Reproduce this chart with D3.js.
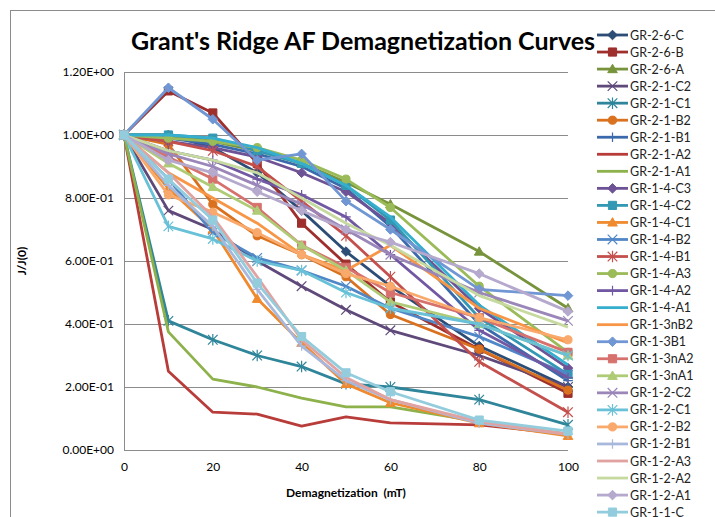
<!DOCTYPE html>
<html><head><meta charset="utf-8">
<script src="https://cdn.jsdelivr.net/npm/d3@7"></script>
<style>body{margin:0;background:#fff}</style>
</head><body><svg id="c" width="715" height="517"></svg>
<script>
const xValues = [0, 10, 20, 30, 40, 50, 60, 80, 100];
const seriesNames = ["GR-2-6-C","GR-2-6-B","GR-2-6-A","GR-2-1-C2","GR-2-1-C1","GR-2-1-B2","GR-2-1-B1","GR-2-1-A2","GR-2-1-A1",
  "GR-1-4-C3","GR-1-4-C2","GR-1-4-C1","GR-1-4-B2","GR-1-4-B1","GR-1-4-A3","GR-1-4-A2","GR-1-4-A1","GR-1-3nB2","GR-1-3B1",
  "GR-1-3nA2","GR-1-3nA1","GR-1-2-C2","GR-1-2-C1","GR-1-2-B2","GR-1-2-B1","GR-1-2-A3","GR-1-2-A2","GR-1-2-A1","GR-1-1-C"];
const seriesValues = [
  [1, 1.00, 0.96, 0.88, 0.76, 0.63, 0.52, 0.33, 0.20],
  [1, 1.14, 1.07, 0.91, 0.72, 0.59, 0.47, 0.32, 0.18],
  [1, 1.00, 0.98, 0.95, 0.91, 0.85, 0.78, 0.63, 0.45],
  [1, 0.76, 0.70, 0.60, 0.52, 0.445, 0.38, 0.30, 0.20],
  [1, 0.41, 0.35, 0.30, 0.265, 0.21, 0.20, 0.16, 0.08],
  [1, 0.97, 0.78, 0.68, 0.62, 0.55, 0.43, 0.32, 0.19],
  [1, 0.99, 0.97, 0.94, 0.90, 0.83, 0.71, 0.40, 0.22],
  [1, 0.25, 0.12, 0.114, 0.076, 0.105, 0.086, 0.08, 0.05],
  [1, 0.375, 0.225, 0.20, 0.165, 0.137, 0.137, 0.09, 0.05],
  [1, 0.98, 0.96, 0.93, 0.88, 0.82, 0.72, 0.45, 0.26],
  [1, 1.00, 0.99, 0.95, 0.91, 0.84, 0.73, 0.42, 0.24],
  [1, 0.83, 0.70, 0.48, 0.34, 0.21, 0.15, 0.085, 0.045],
  [1, 0.86, 0.69, 0.61, 0.57, 0.52, 0.45, 0.36, 0.24],
  [1, 0.98, 0.95, 0.90, 0.79, 0.68, 0.55, 0.28, 0.12],
  [1, 0.99, 0.98, 0.96, 0.92, 0.86, 0.77, 0.52, 0.31],
  [1, 0.95, 0.92, 0.86, 0.81, 0.74, 0.62, 0.38, 0.23],
  [1, 1.00, 0.99, 0.96, 0.91, 0.84, 0.74, 0.46, 0.27],
  [1, 0.88, 0.80, 0.72, 0.62, 0.57, 0.65, 0.45, 0.34],
  [1, 1.15, 1.05, 0.92, 0.94, 0.79, 0.70, 0.51, 0.49],
  [1, 0.93, 0.86, 0.77, 0.65, 0.58, 0.50, 0.42, 0.31],
  [1, 0.91, 0.835, 0.76, 0.65, 0.57, 0.47, 0.40, 0.30],
  [1, 0.94, 0.90, 0.84, 0.78, 0.70, 0.62, 0.50, 0.41],
  [1, 0.71, 0.67, 0.60, 0.57, 0.50, 0.45, 0.40, 0.30],
  [1, 0.81, 0.755, 0.69, 0.62, 0.56, 0.52, 0.42, 0.35],
  [1, 0.84, 0.71, 0.51, 0.33, 0.22, 0.16, 0.085, 0.05],
  [1, 0.88, 0.74, 0.55, 0.35, 0.23, 0.16, 0.09, 0.05],
  [1, 0.95, 0.92, 0.88, 0.80, 0.72, 0.65, 0.49, 0.39],
  [1, 0.92, 0.88, 0.82, 0.76, 0.70, 0.66, 0.56, 0.44],
  [1, 0.86, 0.73, 0.53, 0.36, 0.245, 0.185, 0.095, 0.06]
];
const seriesColors = ["#2C4D75","#9E2F2C","#77933C","#5F497A","#2F8599","#D9711E","#3A6AAB","#B83C39","#8DB14B",
  "#6E5296","#3398B3","#F08A2E","#5087C7","#C4504D","#9BBB59","#7258A2","#36AECD","#F79646","#7097D4",
  "#D7716E","#AFCB76","#9A86B8","#68C1D7","#F9A96B","#A8B8DC","#E0A3A1","#C6DAA0","#B5A9CD","#93CDDD"];
const seriesMarkers = ["diamond","square","triangle","x","asterisk","circle","plus","none","none",
  "diamond","square","triangle","x","asterisk","circle","plus","none","none","diamond",
  "square","triangle","x","asterisk","circle","plus","none","none","diamond","square"];
const yTicks = [0, 0.2, 0.4, 0.6, 0.8, 1.0, 1.2];
const xTicks = [0, 20, 40, 60, 80, 100];

const svg = d3.select("#c");
const FONT = "Lato, 'Open Sans', sans-serif";
const x = d3.scaleLinear().domain([0, 100]).range([124, 568]);
const y = d3.scaleLinear().domain([0, 1.2]).range([450, 72]);

// outer chart border
svg.append("rect").attr("x", 10.5).attr("y", 10.5).attr("width", 720).attr("height", 520)
  .attr("fill", "#fff").attr("stroke", "#8c8c8c").attr("stroke-width", 1);

// title
svg.append("text").attr("x", 363).attr("y", 50).attr("text-anchor", "middle")
  .attr("font-family", FONT).attr("font-weight", "bold").attr("font-size", 25).attr("fill", "#000")
  .text("Grant's Ridge AF Demagnetization Curves");

// gridlines
svg.append("g").selectAll("line").data(yTicks).join("line")
  .attr("x1", x(0)).attr("x2", x(100)).attr("y1", d => Math.round(y(d)) + 0.5).attr("y2", d => Math.round(y(d)) + 0.5)
  .attr("stroke", "#8c8c8c").attr("stroke-width", 1);
svg.append("line").attr("x1", x(0) + 0.5).attr("x2", x(0) + 0.5).attr("y1", y(1.2)).attr("y2", y(0))
  .attr("stroke", "#8c8c8c");

function fmtE(v) {
  let s = v.toExponential(2).toUpperCase();
  return s.replace(/E([+-])(\d)$/, "E$10$2");
}
// y axis
const yAxis = d3.axisLeft(y).tickValues(yTicks).tickFormat(fmtE).tickSize(0).tickPadding(10);
const gy = svg.append("g").attr("transform", `translate(${x(0)},0)`).call(yAxis);
gy.select(".domain").remove();
gy.selectAll("text").attr("font-family", FONT).attr("font-size", 12).attr("fill", "#000");
// x axis
const xAxis = d3.axisBottom(x).tickValues(xTicks).tickSize(0).tickPadding(12);
const gx = svg.append("g").attr("transform", `translate(0,${y(0)})`).call(xAxis);
gx.select(".domain").remove();
gx.selectAll("text").attr("font-family", FONT).attr("font-size", 12).attr("fill", "#000");

// axis titles
svg.append("text").attr("x", 346).attr("y", 497).attr("text-anchor", "middle")
  .attr("font-family", FONT).attr("font-weight", "bold").attr("font-size", 12)
  .attr("xml:space", "preserve").text("Demagnetization  (mT)");
svg.append("text").attr("transform", "translate(26,261) rotate(-90)").attr("text-anchor", "middle")
  .attr("font-family", FONT).attr("font-weight", "bold").attr("font-size", 12).text("J/J(0)");

function markerPath(type, s) {
  switch (type) {
    case "diamond": return `M0,${-s}L${s},0L0,${s}L${-s},0Z`;
    case "square": return `M${-s*0.85},${-s*0.85}H${s*0.85}V${s*0.85}H${-s*0.85}Z`;
    case "triangle": return `M0,${-s}L${s},${s*0.75}L${-s},${s*0.75}Z`;
    case "circle": return d3.symbol(d3.symbolCircle, Math.PI * (s*0.85) * (s*0.85))();
    case "x": return `M${-s},${-s}L${s},${s}M${-s},${s}L${s},${-s}`;
    case "asterisk": return `M${-s},${-s}L${s},${s}M${-s},${s}L${s},${-s}M0,${-s*1.2}V${s*1.2}`;
    case "plus": return `M${-s},0H${s}M0,${-s}V${s}`;
  }
  return null;
}
const strokeMarkers = new Set(["x", "asterisk", "plus"]);

const line = d3.line().x(d => x(d[0])).y(d => y(d[1]));
const plot = svg.append("g");
seriesNames.forEach((name, i) => {
  const pts = xValues.map((xv, j) => [xv, seriesValues[i][j]]);
  const g = plot.append("g");
  g.append("path").attr("d", line(pts)).attr("fill", "none").attr("stroke", seriesColors[i])
    .attr("stroke-width", 2.8).attr("stroke-linejoin", "round");
  const m = seriesMarkers[i];
  if (m !== "none") {
    const p = markerPath(m, 4.8);
    g.selectAll("path.mk").data(pts).join("path").attr("class", "mk")
      .attr("transform", d => `translate(${x(d[0])},${y(d[1])})`).attr("d", p)
      .attr("fill", strokeMarkers.has(m) ? "none" : seriesColors[i])
      .attr("stroke", seriesColors[i]).attr("stroke-width", strokeMarkers.has(m) ? 1.2 : 1);
  }
});

// legend
const legend = svg.append("g");
seriesNames.forEach((name, i) => {
  const ly = 35 + i * 17.04;
  const g = legend.append("g").attr("transform", `translate(0,${ly})`);
  g.append("line").attr("x1", 597).attr("x2", 628).attr("y1", 0).attr("y2", 0)
    .attr("stroke", seriesColors[i]).attr("stroke-width", 2.8);
  const m = seriesMarkers[i];
  if (m !== "none") {
    g.append("path").attr("transform", "translate(612.5,0)").attr("d", markerPath(m, 4.8))
      .attr("fill", strokeMarkers.has(m) ? "none" : seriesColors[i])
      .attr("stroke", seriesColors[i]).attr("stroke-width", strokeMarkers.has(m) ? 1.2 : 1);
  }
  g.append("text").attr("x", 630).attr("y", 4.5).attr("font-family", FONT).attr("font-size", 12.5)
    .attr("fill", "#222").text(name);
});
</script></body></html>
